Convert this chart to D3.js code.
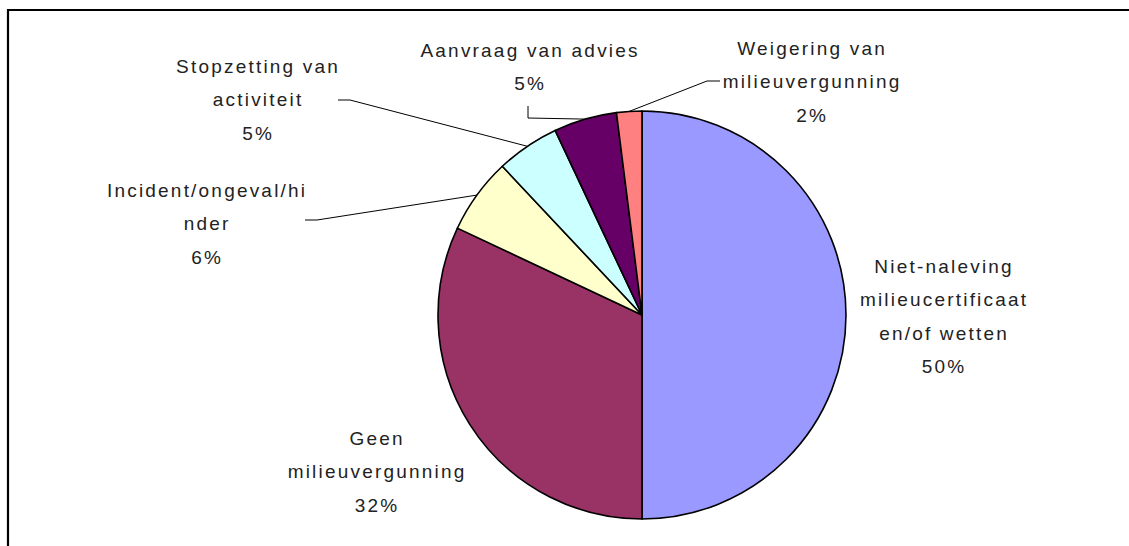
<!DOCTYPE html>
<html>
<head>
<meta charset="utf-8">
<script src="https://cdn.jsdelivr.net/npm/d3@7"></script>
<style>
  html, body { margin: 0; padding: 0; background: #fff; }
  svg { display: block; }
  text { font-family: "Liberation Sans", Arial, sans-serif; font-size: 19px; fill: #222; letter-spacing: 2.2px; }
</style>
</head>
<body>
<svg id="chart" width="1129" height="546"></svg>
<script>
// ---- data ----
const categories = [
  "Niet-naleving milieucertificaat en/of wetten",
  "Geen milieuvergunning",
  "Incident/ongeval/hinder",
  "Stopzetting van activiteit",
  "Aanvraag van advies",
  "Weigering van milieuvergunning"
];
const values = [50, 32, 6, 5, 5, 2];
const labelLines = [
  ["Niet-naleving", "milieucertificaat", "en/of wetten"],
  ["Geen", "milieuvergunning"],
  ["Incident/ongeval/hi", "nder"],
  ["Stopzetting van", "activiteit"],
  ["Aanvraag van advies"],
  ["Weigering van", "milieuvergunning"]
];
const colors = ["#9999FF", "#993366", "#FFFFCC", "#CCFFFF", "#660066", "#FF8080"];

// ---- layout (label placement, as positioned in the original) ----
const labelPos = [
  {x: 943, y: 273},
  {x: 376, y: 445},
  {x: 206, y: 197},
  {x: 257, y: 73},
  {x: 529, y: 57},
  {x: 811, y: 55}
];
const leaderPts = [
  null,
  null,
  [[317, 220], [305, 220]],
  [[350, 100], [338, 100]],
  [[528, 118], [528, 106]],
  [[707, 81], [720, 81]]
];
const lineH = 33.4;
const cx = 642, cy = 315, r = 204;

const svg = d3.select("#chart");

// frame (partially visible chart border)
svg.append("path")
  .attr("d", "M8,546 L8,10 L1129,10")
  .attr("fill", "none").attr("stroke", "#000").attr("stroke-width", 2.2);

const total = d3.sum(values);
const fmt = d3.format(".0%");
const pie = d3.pie().sort(null).value(d => d.value);
const arcs = pie(categories.map((c, i) => ({name: c, value: values[i], i})));
const arc = d3.arc().innerRadius(0).outerRadius(r);
const edge = d3.arc().innerRadius(r).outerRadius(r);

const g = svg.append("g").attr("transform", `translate(${cx},${cy})`);
g.selectAll("path.slice").data(arcs).join("path")
  .attr("class", "slice")
  .attr("d", arc)
  .attr("fill", d => colors[d.data.i])
  .attr("stroke", "#000").attr("stroke-width", 1.6).attr("stroke-linejoin", "round");

// leader lines
arcs.forEach(d => {
  const pts = leaderPts[d.data.i];
  if (!pts) return;
  const c = edge.centroid(d);
  const all = [[cx + c[0], cy + c[1]], ...pts];
  svg.append("path")
    .attr("d", d3.line()(all))
    .attr("fill", "none").attr("stroke", "#000").attr("stroke-width", 1);
});

// labels
arcs.forEach(d => {
  const i = d.data.i;
  const p = labelPos[i];
  const lines = labelLines[i].concat([fmt(d.data.value / total)]);
  const t = svg.append("text").attr("text-anchor", "middle");
  lines.forEach((ln, k) => {
    t.append("tspan").attr("x", p.x + 1.1).attr("y", p.y + k * lineH).text(ln);
  });
});
</script>
</body>
</html>
